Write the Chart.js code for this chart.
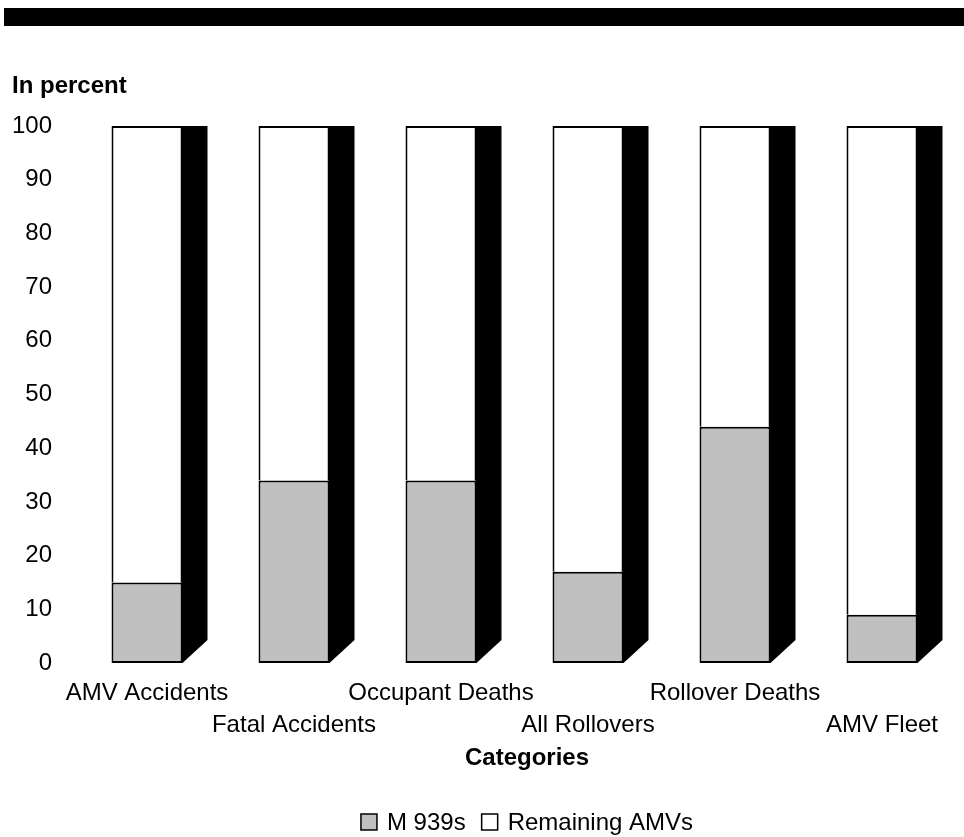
<!DOCTYPE html>
<html>
<head>
<meta charset="utf-8">
<script src="https://cdn.jsdelivr.net/npm/chart.js@4/dist/chart.umd.min.js"></script>
<style>
  html, body { margin: 0; padding: 0; background: #fff; }
  #wrap { width: 964px; height: 837px; position: relative; }
</style>
</head>
<body>
<div id="wrap"><canvas id="c" width="964" height="837"></canvas></div>
<script>
// Share of each measure, in percent
const categories = ['AMV Accidents', 'Fatal Accidents', 'Occupant Deaths', 'All Rollovers', 'Rollover Deaths', 'AMV Fleet'];
const m939Share = [15, 34, 34, 17, 44, 9];
const remainingShare = [85, 66, 66, 83, 56, 91];
const yTicks = [0, 10, 20, 30, 40, 50, 60, 70, 80, 90, 100];
const seriesNames = ['M 939s', 'Remaining AMVs'];

const FONT = '"Liberation Sans", Arial, Helvetica, sans-serif';
const GRAY = '#c0c0c0';
const DEPTH_X = 25;   // width of the shaded side face
const DEPTH_Y = 23;   // drop of the side face's lower edge

// Black side faces, page band, headings and legend
const decorations = {
  id: 'decorations',
  beforeDraw(chart) {
    const ctx = chart.ctx;
    ctx.save();
    ctx.fillStyle = '#fff';
    ctx.fillRect(0, 0, chart.width, chart.height);
    ctx.fillStyle = '#000';
    ctx.fillRect(4, 8, chart.width - 4, 18);
    ctx.font = 'bold 24px ' + FONT;
    ctx.textBaseline = 'middle';
    ctx.textAlign = 'left';
    ctx.fillText('In percent', 12, 86);
    ctx.restore();
  },
  afterDatasetsDraw(chart) {
    const ctx = chart.ctx;
    const low = chart.getDatasetMeta(0).data;
    const high = chart.getDatasetMeta(1).data;
    ctx.save();
    ctx.fillStyle = '#000';
    low.forEach((bar, i) => {
      const b = bar.getProps(['x', 'width', 'base'], true);
      const t = high[i].getProps(['y'], true);
      const r = b.x + b.width / 2;
      ctx.beginPath();
      ctx.moveTo(r - 1, t.y);
      ctx.lineTo(r + DEPTH_X, t.y);
      ctx.lineTo(r + DEPTH_X, b.base - DEPTH_Y);
      ctx.lineTo(r, b.base);
      ctx.lineTo(r - 1, b.base);
      ctx.closePath();
      ctx.fill();
    });
    ctx.restore();
  },
  afterDraw(chart) {
    const ctx = chart.ctx;
    const area = chart.chartArea;
    const cx = (area.left + area.right + DEPTH_X) / 2;
    ctx.save();
    ctx.fillStyle = '#000';
    ctx.textBaseline = 'middle';
    ctx.textAlign = 'center';
    ctx.font = 'bold 24px ' + FONT;
    ctx.fillText('Categories', cx, 758);

    // legend
    ctx.font = '24px ' + FONT;
    const box = 16, gapText = 10, gapItem = 16;
    const fills = [GRAY, '#fff'];
    const widths = seriesNames.map(n => box + gapText + ctx.measureText(n).width);
    const total = widths[0] + gapItem + widths[1];
    let x = cx - total / 2;
    const y = 822;
    ctx.textAlign = 'left';
    seriesNames.forEach((name, i) => {
      ctx.fillStyle = fills[i];
      ctx.fillRect(x, y - box / 2, box, box);
      ctx.strokeStyle = '#000';
      ctx.lineWidth = 1.5;
      ctx.strokeRect(x, y - box / 2, box, box);
      ctx.fillStyle = '#000';
      ctx.fillText(name, x + box + gapText, y + 1);
      x += widths[i] + gapItem;
    });
    ctx.restore();
  }
};

new Chart(document.getElementById('c'), {
  type: 'bar',
  data: {
    labels: categories,
    datasets: [
      {
        label: seriesNames[0],
        data: m939Share,
        backgroundColor: GRAY,
        borderColor: '#000',
        borderWidth: { top: 2, left: 2, right: 2, bottom: 2 },
        borderSkipped: false,
        categoryPercentage: 1,
        barPercentage: 0.483
      },
      {
        label: seriesNames[1],
        data: remainingShare,
        backgroundColor: '#fff',
        borderColor: '#000',
        borderWidth: { top: 2, left: 2, right: 2, bottom: 0 },
        borderSkipped: false,
        categoryPercentage: 1,
        barPercentage: 0.483
      }
    ]
  },
  options: {
    responsive: false,
    animation: false,
    devicePixelRatio: 1,
    layout: { padding: { top: 126, left: 0, right: 8.5, bottom: 0 } },
    plugins: {
      legend: { display: false },
      title: { display: false },
      tooltip: { enabled: false }
    },
    scales: {
      x: {
        stacked: true,
        grid: { display: false, drawTicks: false },
        border: { display: false },
        afterFit(s) { s.height = 174; },
        ticks: {
          autoSkip: false,
          maxRotation: 0,
          minRotation: 0,
          padding: 14,
          color: '#000',
          font: { family: FONT, size: 24, lineHeight: '32px' },
          callback(value, index) {
            const name = categories[index];
            return index % 2 ? ['', name] : name;
          }
        }
      },
      y: {
        stacked: true,
        min: 0,
        max: 100,
        grid: { display: false, drawTicks: false },
        border: { display: false },
        afterFit(s) { s.width = 73.5; },
        afterBuildTicks(s) { s.ticks = yTicks.map(v => ({ value: v })); },
        ticks: {
          padding: 21.5,
          color: '#000',
          font: { family: FONT, size: 24 }
        }
      }
    }
  },
  plugins: [decorations]
});
</script>
</body>
</html>
